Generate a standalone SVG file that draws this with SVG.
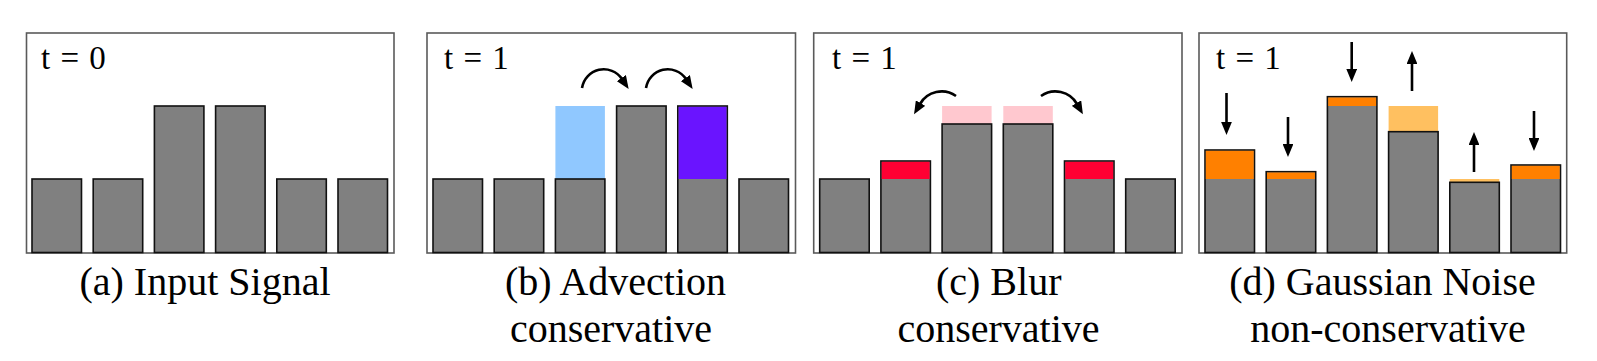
<svg xmlns="http://www.w3.org/2000/svg" width="1597" height="361" viewBox="0 0 1597 361">
<style>
.frame{fill:#fff;stroke:#5a5a5a;stroke-width:1.6}
.bar{fill:#808080;stroke:#111;stroke-width:1.6}
.t{font-family:'Liberation Serif','Times New Roman',serif;font-size:33px;fill:#000;word-spacing:2px}
.cap{font-family:'Liberation Serif','Times New Roman',serif;font-size:40px;fill:#000;text-anchor:middle}
.arc{fill:none;stroke:#000;stroke-width:2.6}
</style>
<defs>
<marker id="ah" viewBox="0 0 12 10" refX="1" refY="5" markerWidth="5" markerHeight="4.2" markerUnits="strokeWidth" orient="auto">
<path d="M0,0 L12,5 L0,10 Z" fill="#000"/>
</marker>
</defs>
<rect width="1597" height="361" fill="#fff"/>

<g id="panel-a">
<rect class="frame" x="26.5" y="33" width="367.5" height="220"/>
<text class="t" x="41" y="69">t = 0</text>
<rect class="bar" x="32" y="179" width="49.5" height="73.5"/>
<rect class="bar" x="93.2" y="179" width="49.5" height="73.5"/>
<rect class="bar" x="154.4" y="106" width="49.5" height="146.5"/>
<rect class="bar" x="215.6" y="106" width="49.5" height="146.5"/>
<rect class="bar" x="276.8" y="179" width="49.5" height="73.5"/>
<rect class="bar" x="338" y="179" width="49.5" height="73.5"/>
<text class="cap" x="205" y="295">(a) Input Signal</text>
</g>

<g id="panel-b">
<rect class="frame" x="427" y="33" width="368.5" height="220"/>
<text class="t" x="444" y="69">t = 1</text>
<rect class="bar" x="433" y="179" width="49.5" height="73.5"/>
<rect class="bar" x="494.2" y="179" width="49.5" height="73.5"/>
<rect x="555.4" y="106" width="49.5" height="73" fill="#90c8ff"/>
<rect class="bar" x="555.4" y="179" width="49.5" height="73.5"/>
<rect class="bar" x="616.6" y="106" width="49.5" height="146.5"/>
<rect class="bar" x="677.8" y="106" width="49.5" height="146.5"/>
<rect x="678.6" y="106.8" width="47.9" height="72.2" fill="#6a14ff"/>
<rect class="bar" x="739" y="179" width="49.5" height="73.5"/>
<text class="cap" x="615.5" y="295">(b) Advection</text>
<text class="cap" x="611" y="342">conservative</text>
</g>

<g id="panel-c">
<rect class="frame" x="813.7" y="33" width="368.3" height="220"/>
<text class="t" x="832" y="69">t = 1</text>
<rect class="bar" x="819.7" y="179" width="49.5" height="73.5"/>
<rect class="bar" x="880.9" y="161" width="49.5" height="91.5"/>
<rect x="881.7" y="161.8" width="47.9" height="17.2" fill="#ff0033"/>
<rect x="942.1" y="106" width="49.5" height="18" fill="#ffc8cf"/>
<rect class="bar" x="942.1" y="124" width="49.5" height="128.5"/>
<rect x="1003.3" y="106" width="49.5" height="18" fill="#ffc8cf"/>
<rect class="bar" x="1003.3" y="124" width="49.5" height="128.5"/>
<rect class="bar" x="1064.5" y="161" width="49.5" height="91.5"/>
<rect x="1065.3" y="161.8" width="47.9" height="17.2" fill="#ff0033"/>
<rect class="bar" x="1125.7" y="179" width="49.5" height="73.5"/>
<text class="cap" x="998.7" y="295">(c) Blur</text>
<text class="cap" x="998.5" y="342">conservative</text>
</g>

<g id="panel-d">
<rect class="frame" x="1199" y="33" width="367.7" height="220"/>
<text class="t" x="1216" y="69">t = 1</text>
<rect class="bar" x="1205" y="150" width="49.5" height="102.5"/>
<rect x="1205.8" y="150.8" width="47.9" height="28.2" fill="#ff8000"/>
<rect class="bar" x="1266.2" y="171.7" width="49.5" height="80.8"/>
<rect x="1267" y="172.5" width="47.9" height="6.5" fill="#ff8000"/>
<rect class="bar" x="1327.4" y="96.7" width="49.5" height="155.8"/>
<rect x="1328.2" y="97.5" width="47.9" height="8.5" fill="#ff8000"/>
<rect x="1388.6" y="106" width="49.5" height="25.7" fill="#ffc060"/>
<rect class="bar" x="1388.6" y="131.7" width="49.5" height="120.8"/>
<rect x="1449.8" y="179" width="49.5" height="3.3" fill="#ffc060"/>
<rect class="bar" x="1449.8" y="182.3" width="49.5" height="70.2"/>
<rect class="bar" x="1511" y="165" width="49.5" height="87.5"/>
<rect x="1511.8" y="165.8" width="47.9" height="13.2" fill="#ff8000"/>
<text class="cap" x="1382.5" y="295">(d) Gaussian Noise</text>
<text class="cap" x="1388" y="342">non-conservative</text>
</g>

<g id="connectors">
<path class="arc" marker-end="url(#ah)" d="M582,88 A22,22 0 0 1 622,79"/>
<path class="arc" marker-end="url(#ah)" d="M646,88 A22,22 0 0 1 686,79"/>
<path class="arc" marker-end="url(#ah)" d="M956,96 A25,25 0 0 0 920,104"/>
<path class="arc" marker-end="url(#ah)" d="M1041,96 A25,25 0 0 1 1077,104"/>
<path class="arc" marker-end="url(#ah)" d="M1226.5,93 L1226.5,123"/>
<path class="arc" marker-end="url(#ah)" d="M1288,117 L1288,145"/>
<path class="arc" marker-end="url(#ah)" d="M1351.7,42 L1351.7,70"/>
<path class="arc" marker-end="url(#ah)" d="M1412,91 L1412,63"/>
<path class="arc" marker-end="url(#ah)" d="M1474,172 L1474,144"/>
<path class="arc" marker-end="url(#ah)" d="M1534,111 L1534,139"/>
</g>
</svg>
